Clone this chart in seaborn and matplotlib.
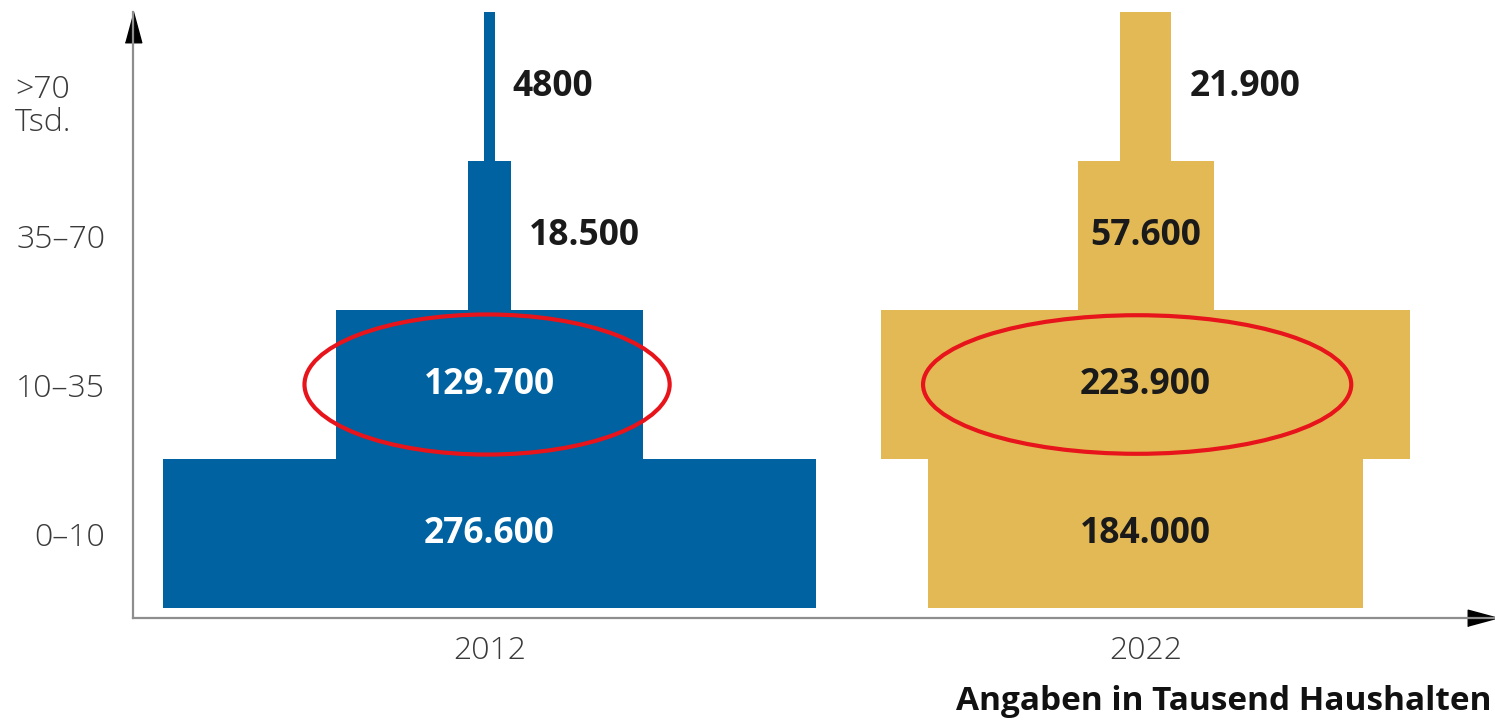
import numpy as np
import pandas as pd
import matplotlib
matplotlib.use("Agg")
import matplotlib.pyplot as plt
import seaborn as sns
from matplotlib.patches import Ellipse
from matplotlib.transforms import ScaledTranslation

# ---------------- data ----------------
categories = ["0–10", "10–35", "35–70", ">70\nTsd."]
years = ["2012", "2022"]
values_2012 = [276.6, 129.7, 18.5, 4.8]       # Tausend Haushalte
values_2022 = [184.0, 223.9, 57.6, 21.9]
labels_2012 = ["276.600", "129.700", "18.500", "4800"]
labels_2022 = ["184.000", "223.900", "57.600", "21.900"]
unit_note = "Angaben in Tausend Haushalten"

# ---------------- style ----------------
sns.set_theme(style="white")
plt.rcParams["font.family"] = ["Open Sans", "DejaVu Sans"]

BLUE = "#0062A0"
GOLD = "#E2B955"
RED = "#E8141B"
AXIS_GRAY = "#8e8e8e"
TEXT_DARK = "#1a1a1a"

df = pd.DataFrame({
    "year": np.repeat(years, len(categories)),
    "row": list(range(len(categories))) * 2,
    "value": values_2012 + values_2022,
    "label": labels_2012 + labels_2022,
})

fig = plt.figure(figsize=(14.95, 7.2), dpi=100)
ax = fig.add_axes([133 / 1495, 102 / 720, 1 - 133 / 1495, 606 / 720])

centers = {"2012": 151.0, "2022": 429.0}
colors = {"2012": BLUE, "2022": GOLD}
inside_color = {"2012": "white", "2022": TEXT_DARK}

for yr, sub in df.groupby("year"):
    c = centers[yr]
    ax.barh(sub["row"], sub["value"], left=c - sub["value"] / 2, height=1.0,
            color=colors[yr], edgecolor="none")
    for _, r in sub.iterrows():
        if r["value"] > 40:
            ax.text(c, r["row"], r["label"], ha="center", va="center",
                    fontsize=25.5, fontweight="bold", color=inside_color[yr])
        else:
            ax.text(c + r["value"] / 2 + 7.5, r["row"], r["label"], ha="left",
                    va="center", fontsize=25.5, fontweight="bold", color=TEXT_DARK)

# red highlight ellipses around the 10–35 row
ax.add_patch(Ellipse((150, 1.0), width=154.7, height=0.94, fill=False,
                     edgecolor=RED, lw=3.0, zorder=5))
ax.add_patch(Ellipse((425.4, 1.0), width=181.4, height=0.93, fill=False,
                     edgecolor=RED, lw=3.0, zorder=5))

ax.set_xlim(0, 577)
ax.set_ylim(-0.567, 3.5)
ax.set_yticks(range(len(categories)), categories)
ax.set_xticks([centers[y] for y in years], years)
ax.tick_params(axis="y", length=0, pad=20, labelsize=23, labelcolor="#3a3a3a")
ax.tick_params(axis="x", length=0, pad=12, labelsize=23, labelcolor="#3a3a3a")
for t in ax.get_yticklabels() + ax.get_xticklabels():
    t.set_fontweight("light")

for s in ["top", "right"]:
    ax.spines[s].set_visible(False)
for s in ["left", "bottom"]:
    ax.spines[s].set_color(AXIS_GRAY)
    ax.spines[s].set_linewidth(1.6)

# the ">70 Tsd." label is left-aligned and sits a bit lower
lab = ax.get_yticklabels()[3]
lab.set_horizontalalignment("left")
lab.set_multialignment("left")
lab.set_linespacing(1.05)
lab.set_transform(lab.get_transform() +
                  ScaledTranslation(-0.90, -0.15, fig.dpi_scale_trans))

# arrow heads
up = [(-0.27, -0.5), (0.27, -0.5), (0.0, 0.5)]
right = [(-0.5, -0.27), (-0.5, 0.27), (0.5, 0.0)]
ax.plot([0], [1], marker=up, markersize=22, color="black", clip_on=False,
        transform=ax.transAxes + ScaledTranslation(0, -0.15, fig.dpi_scale_trans))
ax.plot([1], [0], marker=right, markersize=22, color="black", clip_on=False,
        transform=ax.transAxes + ScaledTranslation(-0.12, 0, fig.dpi_scale_trans))

fig.text(1492 / 1495, 10 / 720, unit_note, ha="right", va="baseline",
         fontsize=24, fontweight="bold", color="#111111")

fig.savefig("out.png", dpi=100)
